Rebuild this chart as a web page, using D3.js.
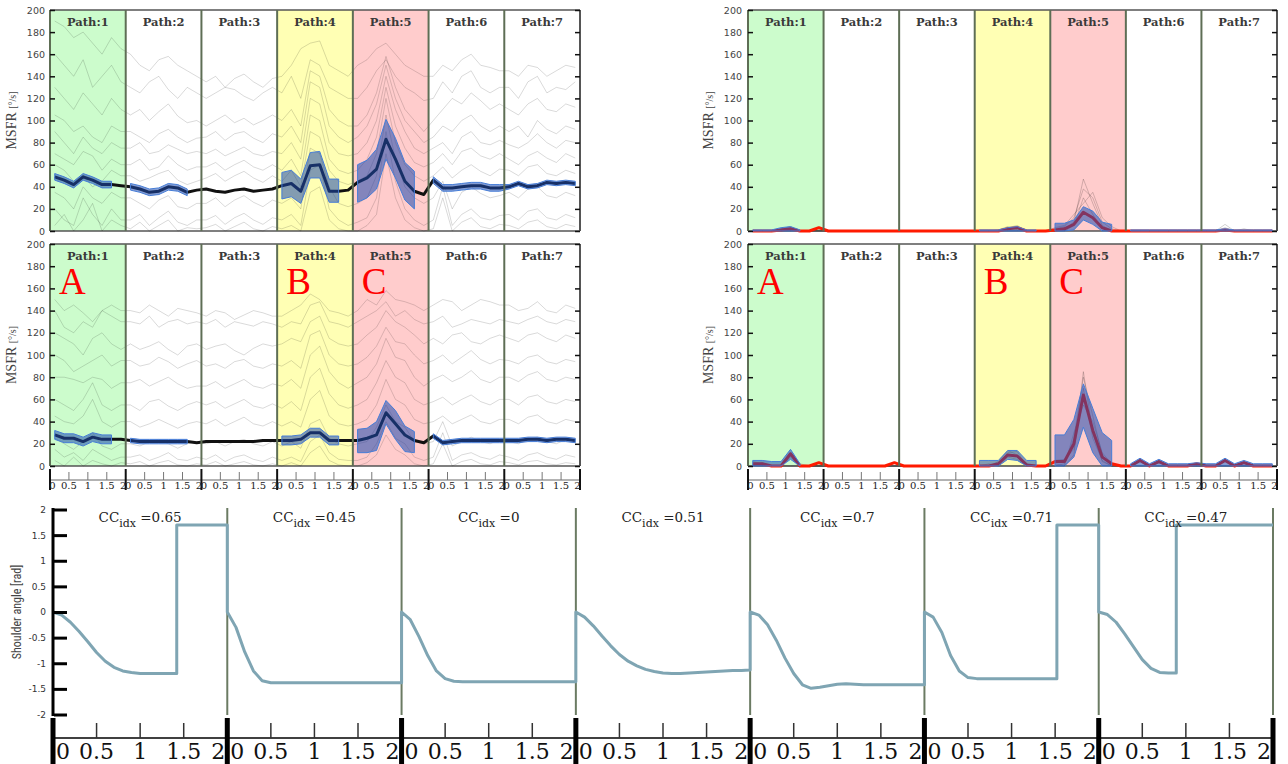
<!DOCTYPE html>
<html><head><meta charset="utf-8">
<script src="https://cdn.jsdelivr.net/npm/d3@7"></script>
<style>body{margin:0;background:#fff} svg{display:block}</style>
</head><body><svg id="c" width="1288" height="764"></svg>
<script>
// ---------------- data ----------------
const pathNames = ['Path:1','Path:2','Path:3','Path:4','Path:5','Path:6','Path:7'];
const pathFill = ['#ccfccc','#ffffff','#ffffff','#ffffb4','#ffcccc','#ffffff','#ffffff'];
const sampleT = [0.125,0.375,0.625,0.875,1.125,1.375,1.625,1.875];
const msfrTicks = [0,20,40,60,80,100,120,140,160,180,200];
const xTickVals = [0,0.5,1,1.5,2];
const xTickLabels = ['0','0.5','1','1.5','2'];
const letterPaths = [0,3,4];
const letterText = ['A','B','C'];

// top-left, row 1 : individual traces
const tracesL1 = [
 [190,185,175,180,170,160,175,165, 160,150,145,155,158,150,145,140, 135,140,130,138,142,135,130,138, 140,150,165,170,172,150,145,140, 150,155,165,170,160,150,145,140, 140,150,145,155,160,150,148,145, 145,140,150,148,140,145,150,148],
 [160,150,140,155,130,140,150,135, 130,125,135,140,128,120,130,125, 120,125,130,128,122,118,125,130, 125,140,120,155,150,130,125,120, 120,130,145,155,140,130,125,118, 120,135,125,140,145,130,125,130, 130,120,135,140,125,130,128,135],
 [130,120,110,125,115,105,120,110, 105,110,100,108,115,104,98,100, 95,100,105,98,102,96,100,105, 100,110,95,145,140,110,100,95, 95,105,125,158,130,110,100,90, 100,110,120,115,125,118,110,115, 110,105,115,120,110,108,115,112],
 [105,100,90,95,85,80,95,90, 90,85,80,88,92,85,80,84, 85,90,82,88,90,84,80,88, 85,95,80,135,130,95,85,80, 85,95,115,150,120,100,90,80, 85,95,90,100,105,95,90,95, 90,95,85,100,92,88,95,92],
 [90,80,70,85,75,70,80,75, 75,80,70,72,78,74,70,72, 70,74,68,72,76,70,68,72, 70,80,65,120,115,80,70,68, 70,80,100,140,110,90,75,70, 75,80,70,85,90,80,78,82, 78,75,80,88,80,75,82,80],
 [70,65,60,72,68,55,65,60, 60,65,55,58,68,60,55,58, 58,62,55,60,64,58,55,60, 55,65,50,105,100,65,55,52, 55,65,85,130,95,75,62,58, 62,70,60,72,75,68,65,70, 65,60,68,72,66,62,70,66],
 [60,55,45,50,40,45,55,50, 50,45,48,52,55,46,42,45, 48,52,45,50,54,48,44,50, 45,55,40,90,85,55,45,42, 45,50,70,120,80,60,50,45, 50,58,48,55,60,54,50,56, 55,50,58,60,52,50,55,52],
 [35,30,20,40,30,25,35,30, 30,25,20,28,32,22,20,25, 25,30,22,28,32,26,22,28, 25,30,20,75,70,40,25,22, 25,30,50,105,65,40,30,25, 30,45,20,35,40,34,30,32, 35,30,38,40,32,30,35,32],
 [20,10,5,30,15,5,20,10, 10,15,5,12,18,8,5,10, 10,14,6,12,16,10,6,12, 10,15,5,55,60,20,10,5, 8,12,30,90,45,20,10,5, 10,40,5,15,20,12,10,14, 15,10,18,20,12,10,15,12],
 [5,15,0,10,25,0,10,5, 2,8,0,5,10,0,3,2, 3,6,0,4,8,2,0,4, 2,5,0,35,40,10,2,0, 0,5,15,70,30,10,3,0, 2,30,0,8,12,4,2,6, 5,2,8,10,4,2,6,4]
];
const meanL1 = [49,46,42,49,46,42,42,41, 40,38,35,36,40,39,35,37, 38,36,35,37,38,36,37,38, 41,43,36,59,60,36,36,37, 44,48,56,83,65,45,36,33, 46,39,39,40,41,41,39,39, 40,43,40,41,44,43,44,43];
const loL1 = [46,43,39,46,43,39,39,null, 37,35,32,33,37,36,32,null, null,null,null,null,null,null,null,null, 29,31,25,48,48,26,26,null, 26,30,38,65,48,28,20,null, 43,36,36,37,38,38,36,36, 38,41,38,39,42,41,42,41];
const hiL1 = [52,49,45,52,49,45,45,null, 43,41,38,39,43,42,38,null, null,null,null,null,null,null,null,null, 53,55,47,71,72,47,47,null, 60,64,74,101,84,62,54,null, 49,42,42,43,44,44,42,42, 42,45,42,43,46,45,46,45];

// top-left, row 2
const tracesL2 = [
 [150,140,145,138,130,140,145,140, 140,138,145,140,135,142,140,138, 135,140,138,132,136,140,138,135, 135,140,145,155,150,140,138,135, 140,150,145,158,150,148,145,140, 145,150,148,140,145,150,148,145, 145,140,142,148,140,138,145,142],
 [140,125,120,130,125,140,135,130, 130,128,135,125,130,132,128,130, 128,132,125,130,128,126,130,128, 125,130,128,145,148,130,128,125, 130,135,140,148,135,140,132,128, 130,135,125,128,132,130,128,132, 130,128,132,135,130,128,132,130],
 [120,115,110,100,115,120,110,105, 110,105,108,112,105,100,108,110, 105,108,110,104,100,106,110,108, 110,115,112,130,135,115,110,108, 110,118,125,140,130,125,118,110, 115,110,118,120,112,110,115,118, 115,112,118,120,115,112,118,115],
 [100,95,85,90,95,100,90,95, 95,90,92,98,94,88,92,95, 90,92,88,94,96,90,88,92, 90,95,88,118,122,100,92,90, 92,98,108,125,112,110,100,92, 95,100,92,98,104,96,92,96, 95,92,98,100,94,92,96,94],
 [80,80,78,75,80,78,70,75, 75,78,72,76,80,74,70,72, 72,76,70,74,78,72,70,74, 72,78,70,100,108,85,75,70, 75,80,92,115,98,95,80,72, 78,82,76,80,86,78,75,80, 80,76,82,85,78,76,80,78],
 [60,55,50,60,75,55,50,55, 55,50,58,60,54,50,55,58, 55,58,52,56,60,54,52,56, 52,58,50,80,88,65,55,52, 55,60,75,95,80,75,60,55, 58,62,55,60,64,58,55,60, 60,55,62,64,58,56,60,58],
 [45,40,38,45,60,40,35,40, 40,35,38,42,38,34,38,40, 38,42,36,40,44,38,36,40, 36,40,35,60,68,45,38,36, 38,42,55,78,60,55,42,38, 40,45,38,42,46,40,38,42, 42,38,44,46,40,38,42,40],
 [25,20,15,22,30,18,15,20, 20,18,22,24,20,16,20,22, 20,22,18,22,24,20,18,22, 18,22,16,38,42,25,20,18, 20,22,35,55,40,35,22,20, 22,40,18,22,26,22,20,24, 22,20,24,26,22,20,24,22],
 [15,8,12,5,15,10,5,8, 8,10,5,8,12,6,5,8, 6,10,4,8,10,6,4,8, 5,8,4,22,28,12,6,5, 5,8,20,40,25,20,8,5, 8,30,5,10,12,8,6,10, 8,5,10,12,8,6,10,8],
 [5,0,8,0,5,2,0,3, 2,4,0,3,5,1,0,2, 1,4,0,2,4,1,0,2, 0,3,0,12,18,5,1,0, 0,3,10,28,15,10,2,0, 2,20,0,4,6,2,1,4, 3,1,4,5,2,1,3,2]
];
const meanL2 = [28,25,25,22,26,24,24,24, 23,22,22,22,22,22,22,21, 22,22,22,22,22,22,23,23, 23,23,24,30,30,23,23,23, 23,25,28,48,38,28,23,21, 27,21,22,23,23,23,23,23, 23,23,24,24,23,24,24,23];
const loL2 = [24,21,21,18,22,20,20,null, 21,20,20,20,20,20,20,null, null,null,null,null,null,null,null,null, 19,19,20,26,26,19,19,null, 12,12,14,38,24,13,12,null, 25,19,20,21,21,21,21,21, 21,21,22,22,21,22,22,21];
const hiL2 = [32,29,29,26,30,28,28,null, 25,24,24,24,24,24,24,null, null,null,null,null,null,null,null,null, 27,27,28,34,34,27,27,null, 33,34,40,59,50,36,31,null, 29,23,24,25,25,25,25,25, 25,25,26,26,25,26,26,25];

// top-right, row 1
const tracesR1 = [
 [0,0,0,2,4,0,0,0, 0,0,0,0,0,0,0,0, 0,0,0,0,0,0,0,0, 0,0,0,3,5,0,0,0, 0,2,8,47,25,5,0,0, 0,0,0,0,0,0,0,0, 0,0,6,0,0,0,0,0],
 [0,0,0,0,2,0,0,1, 0,0,0,0,0,0,0,0, 0,0,0,0,0,0,0,0, 0,0,1,4,2,0,0,0, 2,4,12,38,30,8,2,0, 0,0,0,0,0,0,0,0, 0,0,3,0,2,0,0,0],
 [0,0,0,0,0,0,0,0, 0,0,0,0,0,0,0,0, 0,0,0,0,0,0,0,0, 0,0,0,2,3,0,0,0, 0,0,5,30,15,2,0,0, 0,0,0,0,0,0,0,0, 0,0,0,0,0,0,0,0],
 [0,0,0,0,0,0,0,0, 0,0,0,0,0,0,0,0, 0,0,0,0,0,0,0,0, 0,0,0,0,0,0,0,0, 3,5,15,25,35,12,4,0, 0,0,0,0,0,0,0,0, 0,0,0,0,0,0,0,0]
];
const meanR1 = [0,0,0,1,2,0,0,3, 0,0,0,0,0,0,0,0, 0,0,0,0,0,0,0,0, 0,0,0,2,3,0,0,0, 1,2,6,17,12,3,0,0, 0,0,0,0,0,0,0,0, 0,0,1,0,0,0,0,0];
const loR1 = [0,0,0,0,0,0,null,null, null,null,null,null,null,null,null,null, null,null,null,null,null,null,null,null, 0,0,0,0,0,0,0,null, 0,0,1,10,6,0,0,null, 0,0,0,0,0,0,0,0, 0,0,0,0,0,0,0,0];
const hiR1 = [1,1,1,3,4,1,null,null, null,null,null,null,null,null,null,null, null,null,null,null,null,null,null,null, 1,1,1,3,4,1,1,null, 7,7,10,22,18,8,6,null, 1,1,1,1,1,1,1,1, 1,1,2,1,1,1,1,1];

// top-right, row 2
const tracesR2 = [
 [0,3,0,0,12,2,0,0, 0,0,0,0,0,0,0,0, 0,0,0,0,0,0,0,0, 0,0,4,14,10,2,0,0, 0,2,25,80,45,10,0,0, 0,6,0,5,0,0,0,0, 0,0,6,0,4,0,0,0],
 [4,2,0,0,8,0,0,0, 0,0,0,0,0,0,0,0, 0,0,0,0,0,0,0,0, 0,0,2,12,13,0,0,0, 5,6,15,70,25,5,0,0, 0,4,0,3,0,0,0,0, 0,0,0,0,0,0,0,0],
 [0,0,0,0,0,0,0,0, 0,0,0,0,0,0,0,0, 0,0,0,0,0,0,0,0, 0,2,0,8,6,0,0,0, 0,0,30,55,40,12,2,0, 0,0,0,0,0,0,0,0, 0,0,0,0,0,0,0,0],
 [0,0,0,0,0,0,0,0, 0,0,0,0,0,0,0,0, 0,0,0,0,0,0,0,0, 0,0,0,0,0,0,0,0, 2,0,10,85,30,4,0,0, 0,0,0,0,0,0,0,0, 0,0,0,0,0,0,0,0]
];
const meanR2 = [2,2,0,0,11,0,0,3, 0,0,0,0,0,0,0,3, 0,0,0,0,0,0,0,0, 0,0,2,10,9,1,0,0, 4,4,20,64,32,8,2,0, 0,5,0,4,0,0,0,2, 0,0,5,0,3,0,0,0];
const loR2 = [0,0,0,0,6,0,null,null, null,null,null,null,null,null,null,null, null,null,null,null,null,null,null,null, 0,0,0,6,5,0,0,null, 0,0,8,35,12,0,0,null, 0,0,0,0,0,0,0,0, 0,0,0,0,0,0,0,0];
const hiR2 = [5,5,4,4,15,2,null,null, null,null,null,null,null,null,null,null, null,null,null,null,null,null,null,null, 5,5,5,14,14,5,5,null, 28,28,42,74,52,30,23,null, 2,7,2,6,2,2,2,3, 2,2,7,2,5,2,2,2];

// bottom: shoulder angle
const angleT = [0,0.1,0.2,0.3,0.4,0.5,0.6,0.7,0.8,0.9,1.0,1.1,1.2,1.3,1.4,1.5,1.6,1.7,1.8,1.9,2.0];
const angle1 = [0,-0.06,-0.2,-0.38,-0.58,-0.79,-0.96,-1.08,-1.15,-1.18,-1.2,-1.2,-1.2,-1.2,-1.2,1.7,1.7,1.7,1.7,1.7,1.7];
const angle2 = [0,-0.3,-0.78,-1.15,-1.34,-1.38,-1.38,-1.38,-1.38,-1.38,-1.38,-1.38,-1.38,-1.38,-1.38,-1.38,-1.38,-1.38,-1.38,-1.38,-1.38];
const angle3 = [0,-0.15,-0.48,-0.85,-1.15,-1.3,-1.35,-1.36,-1.36,-1.36,-1.36,-1.36,-1.36,-1.36,-1.36,-1.36,-1.36,-1.36,-1.36,-1.36,-1.36];
const angle4 = [0,-0.1,-0.27,-0.47,-0.66,-0.83,-0.96,-1.05,-1.12,-1.16,-1.19,-1.2,-1.2,-1.19,-1.18,-1.17,-1.16,-1.15,-1.14,-1.14,-1.13];
const angle5 = [0,-0.06,-0.25,-0.55,-0.9,-1.2,-1.42,-1.49,-1.47,-1.44,-1.41,-1.4,-1.41,-1.42,-1.42,-1.42,-1.42,-1.42,-1.42,-1.42,-1.42];
const angle6 = [0,-0.1,-0.4,-0.85,-1.15,-1.28,-1.3,-1.3,-1.3,-1.3,-1.3,-1.3,-1.3,-1.3,-1.3,-1.3,1.7,1.7,1.7,1.7,1.7];
const angle7 = [0,-0.05,-0.2,-0.43,-0.68,-0.93,-1.1,-1.18,-1.19,1.7,1.7,1.7,1.7,1.7,1.7,1.7,1.7,1.7,1.7,1.7,1.7];
const angleSeries = [angle1,angle2,angle3,angle4,angle5,angle6,angle7];
const stepT = [1.42,null,null,null,null,1.52,0.89];
const ccIdx = ['0.65','0.45','0','0.51','0.7','0.71','0.47'];
const angleTicks = [-2,-1.5,-1,-0.5,0,0.5,1,1.5,2];

// ---------------- drawing ----------------
const svg = d3.select('#c');
svg.append('rect').attr('width',1288).attr('height',764).attr('fill','#fff');

const serif = "'DejaVu Serif', serif";
const sans = "'DejaVu Sans', sans-serif";
const toPts = arr => arr.map((v,i)=>({x: Math.floor(i/8)*2 + sampleT[i%8], v}));

function drawPanel(o){
  const g = svg.append('g');
  const x = d3.scaleLinear([0,14],[o.x0,o.x1]);
  const y = d3.scaleLinear([0,200],[o.yb,o.yt]);
  g.selectAll('rect.bg').data(pathNames).join('rect')
    .attr('x',(d,i)=>x(i*2)).attr('y',o.yt)
    .attr('width',(d,i)=>x(i*2+2)-x(i*2)).attr('height',o.yb-o.yt)
    .attr('fill',(d,i)=>pathFill[i]);
  g.append('line').attr('x1',o.x0).attr('x2',o.x1).attr('y1',o.yt).attr('y2',o.yt).attr('stroke','#555').attr('stroke-width',1.5);
  g.append('line').attr('x1',o.x0).attr('x2',o.x1).attr('y1',o.yb).attr('y2',o.yb).attr('stroke','#555').attr('stroke-width',1.5);
  const line = d3.line().x(d=>x(d.x)).y(d=>y(d.v));
  g.selectAll('path.trace').data(o.traces).join('path').attr('class','trace')
    .attr('d',d=>line(toPts(d))).attr('fill','none')
    .attr('stroke',o.traceColor).attr('stroke-width',1);
  g.append('path').attr('d',line(toPts(o.mean))).attr('fill','none')
    .attr('stroke',o.meanColor).attr('stroke-width',3).attr('stroke-linejoin','round');
  const band = o.lo.map((l,i)=>({x: Math.floor(i/8)*2 + sampleT[i%8], lo:l, hi:o.hi[i]}));
  const area = d3.area().defined(d=>d.lo!=null).x(d=>x(d.x)).y0(d=>y(d.lo)).y1(d=>y(d.hi));
  g.append('path').attr('d',area(band)).attr('fill','rgba(30,75,175,0.55)')
    .attr('stroke','rgb(70,125,215)').attr('stroke-width',1);
  g.selectAll('line.bd').data(d3.range(8)).join('line')
    .attr('x1',d=>x(d*2)).attr('x2',d=>x(d*2)).attr('y1',o.yt).attr('y2',o.yb)
    .attr('stroke',d=> d===7 ? '#555' : '#5e6e55').attr('stroke-width',2);
  g.selectAll('text.pl').data(pathNames).join('text')
    .attr('x',(d,i)=>x(i*2+1)).attr('y',o.yt+16).attr('text-anchor','middle')
    .attr('font-family',serif).attr('font-size',11.5).attr('font-weight','bold').attr('fill','#3a3a3a')
    .text(d=>d);
  const ya = g.append('g').attr('transform',`translate(${o.x0},0)`)
    .call(d3.axisLeft(y).tickValues(msfrTicks).tickSize(-5).tickPadding(o.pad));
  ya.select('.domain').remove();
  ya.selectAll('line').attr('stroke','#111').attr('stroke-width',1.5);
  ya.selectAll('text').attr('font-family',sans).attr('font-size',9.5).attr('fill','#444');
  const yr = g.append('g').attr('transform',`translate(${o.x1},0)`)
    .call(d3.axisRight(y).tickValues(msfrTicks).tickSize(-5).tickFormat(''));
  yr.select('.domain').remove();
  yr.selectAll('line').attr('stroke','#111').attr('stroke-width',1.5);
  const lab = g.append('text').attr('transform',`translate(${o.labelX},${(o.yt+o.yb)/2}) rotate(-90)`)
    .attr('text-anchor','middle').attr('font-family',"'Liberation Serif', serif").attr('font-size',14).attr('fill','#444');
  lab.append('tspan').text('MSFR ');
  lab.append('tspan').attr('font-size',10).text('[°/s]');
  if(o.letters){
    g.selectAll('text.lt').data(letterText).join('text')
      .attr('x',(d,i)=>x(letterPaths[i]*2)+9).attr('y',o.yt+50)
      .attr('font-family',"'Liberation Serif', serif").attr('font-size',37).attr('fill','#ff0000')
      .text(d=>d);
  }
  if(o.xAxis){
    const ay = o.yb+14;
    g.append('line').attr('x1',o.x0).attr('x2',o.x1).attr('y1',ay).attr('y2',ay).attr('stroke','#666').attr('stroke-width',1);
    const small = [];
    const labs = [];
    for(let p=0;p<7;p++){
      [0.5,1,1.5].forEach(t=>small.push(p*2+t));
      xTickVals.forEach((t,k)=>labs.push({x:p*2+t, s:xTickLabels[k], k}));
    }
    g.selectAll('line.st').data(small).join('line')
      .attr('x1',d=>x(d)).attr('x2',d=>x(d)).attr('y1',o.yb+6).attr('y2',ay).attr('stroke','#777').attr('stroke-width',1);
    g.selectAll('line.bt').data(d3.range(8)).join('line')
      .attr('x1',d=>x(d*2)).attr('x2',d=>x(d*2)).attr('y1',o.yb+3).attr('y2',o.yb+24).attr('stroke','#111').attr('stroke-width',2);
    g.selectAll('text.xl').data(labs).join('text')
      .attr('x',d=>x(d.x)+(d.k===0?2.5:(d.k===4?-2.5:0))).attr('y',o.yb+23)
      .attr('text-anchor','middle').attr('font-family',serif).attr('font-size',10).attr('fill','#222')
      .text(d=>d.s);
  }
}

drawPanel({x0:50,x1:580,yt:10,yb:231,traces:tracesL1,mean:meanL1,lo:loL1,hi:hiL1,meanColor:'#111',traceColor:'rgba(0,0,0,0.15)',xAxis:false,letters:false,labelX:16,pad:5});
drawPanel({x0:50,x1:580,yt:244,yb:466,traces:tracesL2,mean:meanL2,lo:loL2,hi:hiL2,meanColor:'#111',traceColor:'rgba(0,0,0,0.15)',xAxis:true,letters:true,labelX:16,pad:5});
drawPanel({x0:748,x1:1277,yt:10,yb:231,traces:tracesR1,mean:meanR1,lo:loR1,hi:hiR1,meanColor:'#ff1a00',traceColor:'rgba(0,0,0,0.18)',xAxis:false,letters:false,labelX:713,pad:6});
drawPanel({x0:748,x1:1277,yt:244,yb:466,traces:tracesR2,mean:meanR2,lo:loR2,hi:hiR2,meanColor:'#ff1a00',traceColor:'rgba(0,0,0,0.18)',xAxis:true,letters:true,labelX:713,pad:6});

// ---- bottom panel ----
(function(){
  const g = svg.append('g');
  const x = d3.scaleLinear([0,14],[53,1273]);
  const y = d3.scaleLinear([-2,2],[714.5,509.5]);
  g.selectAll('line.sb').data(d3.range(1,8)).join('line')
    .attr('x1',d=>x(d*2)).attr('x2',d=>x(d*2)).attr('y1',508).attr('y2',715)
    .attr('stroke','#6b7b63').attr('stroke-width',2);
  const pts = [];
  angleSeries.forEach((arr,s)=>{
    arr.forEach((v,i)=>{
      const t = angleT[i];
      if(stepT[s]!=null && t>stepT[s] && angleT[i-1]<stepT[s]){
        pts.push({x:s*2+stepT[s], v:arr[i-1]});
        pts.push({x:s*2+stepT[s], v:v});
      }
      pts.push({x:s*2+t, v});
    });
  });
  g.append('path').attr('d',d3.line().x(d=>x(d.x)).y(d=>y(d.v))(pts))
    .attr('fill','none').attr('stroke','#7fa5b3').attr('stroke-width',3).attr('stroke-linejoin','round');
  g.append('line').attr('x1',53).attr('x2',53).attr('y1',508).attr('y2',716).attr('stroke','#000').attr('stroke-width',3);
  const ya = g.append('g').attr('transform','translate(54,0)')
    .call(d3.axisLeft(y).tickValues(angleTicks).tickSize(-13).tickPadding(8).tickFormat(d=>String(d)));
  ya.select('.domain').remove();
  ya.selectAll('line').attr('stroke','#000').attr('stroke-width',3);
  ya.selectAll('text').attr('font-family',sans).attr('font-size',9).attr('fill','#333');
  g.append('text').attr('transform','translate(21,612) rotate(-90)').attr('text-anchor','middle')
    .attr('font-family',"'Liberation Sans Narrow','Roboto Condensed','Open Sans',sans-serif").attr('font-size',12).attr('fill','#444')
    .text('Shoulder angle [rad]');
  const cc = g.selectAll('text.cc').data(ccIdx).join('text')
    .attr('x',(d,i)=>x(i*2+1)).attr('y',522).attr('text-anchor','middle')
    .attr('font-family',serif).attr('font-size',13.5).attr('fill','#222');
  cc.append('tspan').text('CC');
  cc.append('tspan').attr('font-size',11).attr('dy',5).text('idx');
  cc.append('tspan').attr('dy',-5).text(d=>' =' + d);
  g.append('line').attr('x1',53).attr('x2',1273).attr('y1',738).attr('y2',738).attr('stroke','#000').attr('stroke-width',1.5);
  const small = [], labs = [];
  for(let p=0;p<7;p++){
    [0.5,1,1.5].forEach(t=>small.push(p*2+t));
    xTickVals.forEach((t,k)=>labs.push({x:p*2+t, s:xTickLabels[k], k}));
  }
  g.selectAll('line.st').data(small).join('line')
    .attr('x1',d=>x(d)).attr('x2',d=>x(d)).attr('y1',723).attr('y2',738).attr('stroke','#333').attr('stroke-width',1.5);
  g.selectAll('line.bt').data(d3.range(8)).join('line')
    .attr('x1',d=>x(d*2)).attr('x2',d=>x(d*2)).attr('y1',718).attr('y2',764).attr('stroke','#000').attr('stroke-width',5);
  g.selectAll('text.xl').data(labs).join('text')
    .attr('x',d=>x(d.x)+(d.k===0?3:(d.k===4?-2:0)))
    .attr('text-anchor',d=>d.k===0?'start':(d.k===4?'end':'middle'))
    .attr('y',759).attr('font-family',serif).attr('font-size',22).attr('fill','#111')
    .text(d=>d.s);
})();
</script></body></html>
